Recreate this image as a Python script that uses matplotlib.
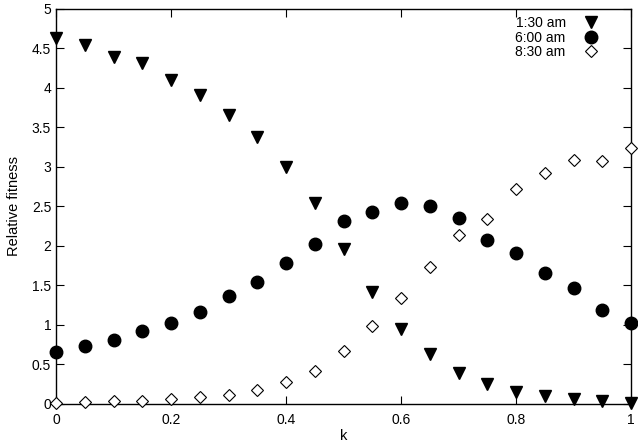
import matplotlib
matplotlib.use("Agg")
import matplotlib.pyplot as plt
import numpy as np

k = [0, 0.05, 0.1, 0.15, 0.2, 0.25, 0.3, 0.35, 0.4, 0.45, 0.5,
     0.55, 0.6, 0.65, 0.7, 0.75, 0.8, 0.85, 0.9, 0.95, 1.0]
am130 = [4.63, 4.55, 4.39, 4.31, 4.10, 3.91, 3.66, 3.38, 3.00, 2.54, 1.96,
         1.42, 0.94, 0.63, 0.39, 0.25, 0.15, 0.10, 0.06, 0.03, 0.01]
am600 = [0.65, 0.73, 0.81, 0.92, 1.02, 1.16, 1.36, 1.54, 1.78, 2.02, 2.31,
         2.43, 2.54, 2.50, 2.35, 2.07, 1.91, 1.66, 1.47, 1.19, 1.02]
am830 = [0.01, 0.02, 0.03, 0.04, 0.06, 0.08, 0.11, 0.17, 0.28, 0.42, 0.67,
         0.98, 1.34, 1.73, 2.14, 2.34, 2.72, 2.92, 3.09, 3.07, 3.24]
labels = ["1:30 am", "6:00 am", "8:30 am"]
xticks = [0, 0.2, 0.4, 0.6, 0.8, 1]
yticks = [0, 0.5, 1, 1.5, 2, 2.5, 3, 3.5, 4, 4.5, 5]

plt.rcParams['font.family'] = ['Liberation Sans', 'DejaVu Sans']
W, H = 638, 446
fig = plt.figure(figsize=(W / 100, H / 100), dpi=100)
ax = fig.add_axes([56 / W, 1 - 403.7 / H, (631 - 56) / W, (403.7 - 9) / H])

ax.plot(k, am130, linestyle='none', marker='v', ms=9, color='black', label=labels[0], clip_on=False, zorder=3)
ax.plot(k, am600, linestyle='none', marker='o', ms=9, color='black', label=labels[1], clip_on=False, zorder=3)
ax.plot(k, am830, linestyle='none', marker='D', ms=6.5, mfc='white', mec='black', mew=0.8,
        color='black', label=labels[2], clip_on=False, zorder=3)

ax.set_xlim(0, 1)
ax.set_ylim(0, 5)
ax.set_xticks(xticks)
ax.set_xticklabels([f"{t:g}" for t in xticks])
ax.set_yticks(yticks)
ax.set_yticklabels([f"{t:g}" for t in yticks])
ax.tick_params(direction='in', top=True, right=True, length=6, width=0.8, labelsize=10)
ax.tick_params(axis='x', pad=7)
for s in ax.spines.values():
    s.set_linewidth(1.0)

ax.set_xlabel('k', fontsize=10.5, labelpad=1)
ax.set_ylabel('Relative fitness', fontsize=10.5, labelpad=8)

leg = ax.legend(loc='upper right', frameon=False, markerfirst=False, fontsize=10,
                handlelength=1.5, handletextpad=1.05, labelspacing=0.05,
                borderaxespad=0.1, bbox_to_anchor=(0.96, 1.0))

fig.savefig('out.png', dpi=100)
